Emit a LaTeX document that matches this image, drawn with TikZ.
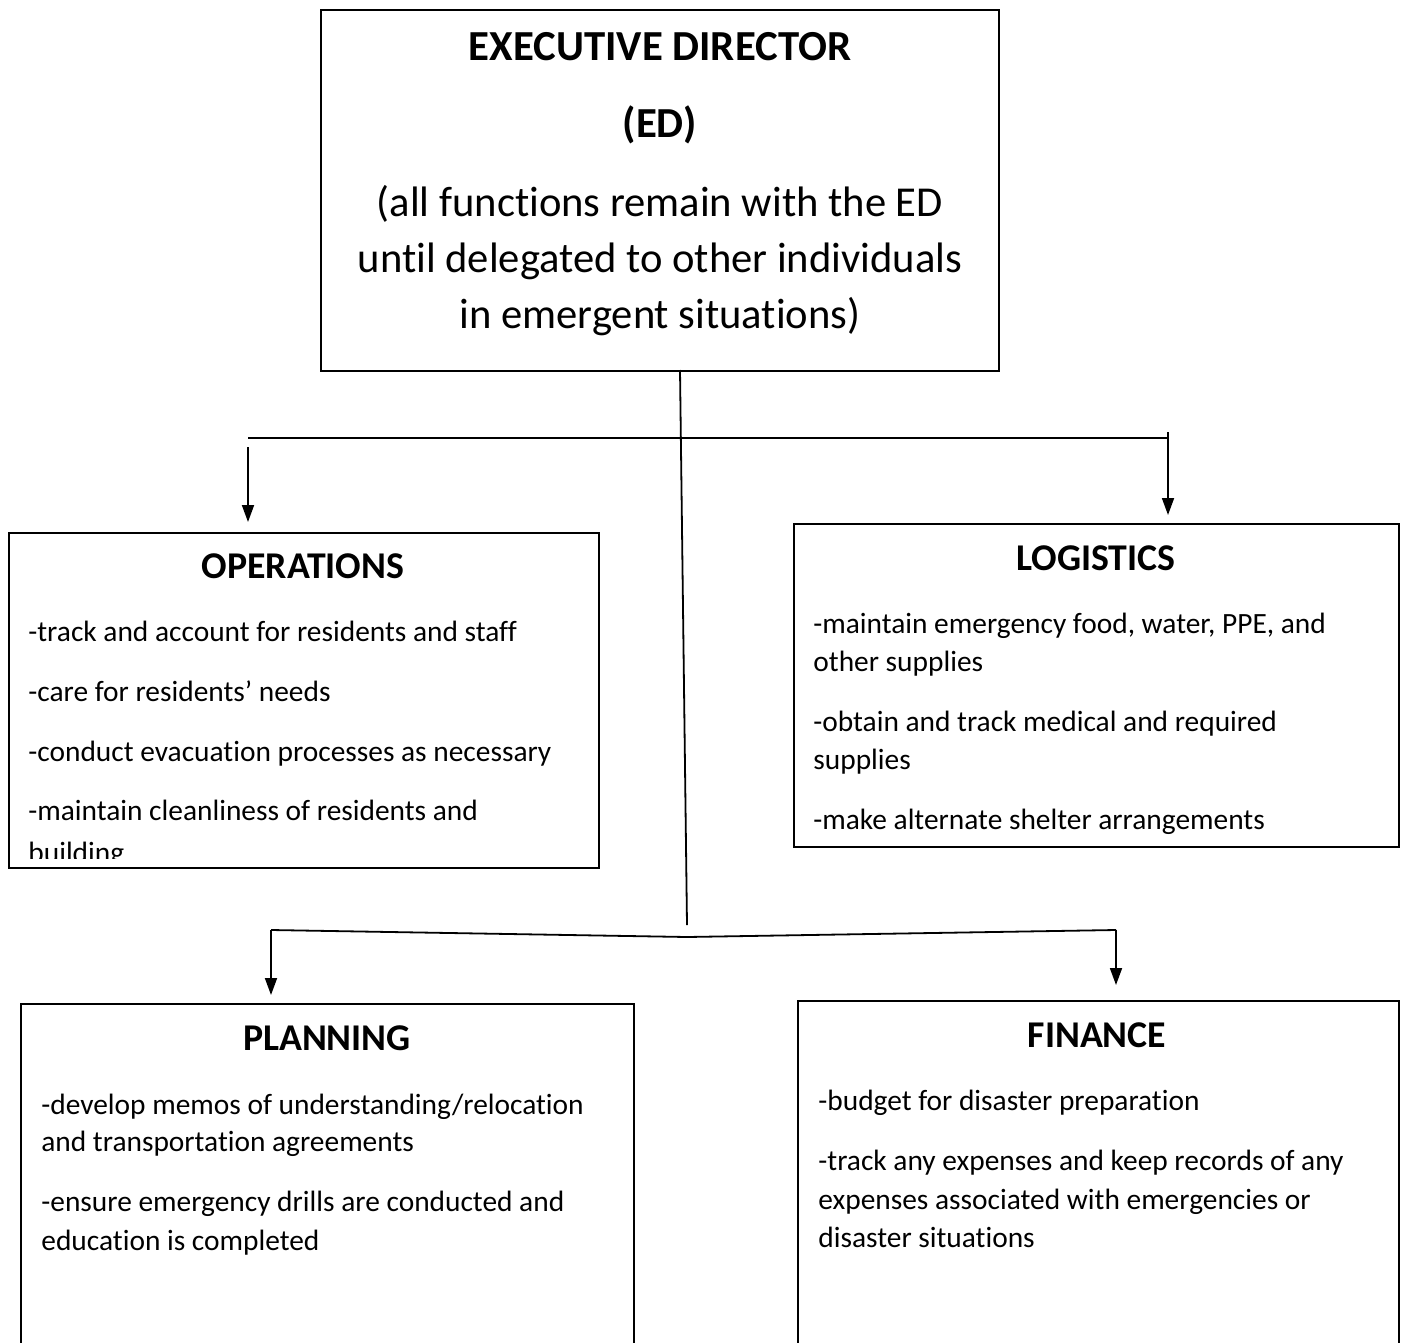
\documentclass[tikz,border=0pt]{standalone}
\usepackage{fontspec}
\setmainfont{Carlito}[Ligatures={TeX,NoCommon}]
\usetikzlibrary{positioning,arrows.meta}

\tikzset{
  box/.style={draw, line width=0.9pt, inner sep=0pt, anchor=north west},
  head/.style={font=\fontsize{18.9}{23}\selectfont\bfseries, anchor=base, inner sep=0pt},
  edhead/.style={font=\fontsize{21.4}{26}\selectfont\bfseries, anchor=base, inner sep=0pt},
  item/.style={font=\fontsize{14.7}{18}\selectfont, anchor=base west, inner sep=0pt},
  edtext/.style={font=\fontsize{21.3}{26}\selectfont, anchor=base, inner sep=0pt},
  link/.style={line width=0.9pt},
  arr/.style={link, -{Triangle[length=8.5pt,width=6pt]}}
}

\begin{document}
\begin{tikzpicture}[x=0.5pt,y=-0.5pt]
    \useasboundingbox (0,0) rectangle (1402,1343);
    \clip (0,0) rectangle (1402,1343);

    %% Executive director
    \node[box, minimum width=339pt, minimum height=180.5pt] (ed) at (320,9) {};
    \node[edhead] (edtitle) at (660,61) {EXECUTIVE DIRECTOR};
    \node[edhead] (edshort) at (660,137) {(ED)};
    \node[edtext] (edline1) at (660,216) {(all functions remain with the ED};
    \node[edtext] (edline2) at (660,272) {until delegated to other individuals};
    \node[edtext] (edline3) at (660,328) {in emergent situations)};

    %% Operations
    \node[box, minimum width=295pt, minimum height=167.5pt] (ops) at (8,532) {};
    \node[head] (opstitle) at (303,578) {OPERATIONS};
    \node[item] (ops1) at (28,641) {-track and account for residents and staff};
    \node[item] (ops2) at (28,701) {-care for residents’ needs};
    \node[item] (ops3) at (28,761) {-conduct evacuation processes as necessary};
    \node[item] (ops4) at (28,820) {-maintain cleanliness of residents and};
    \begin{scope}
        \clip (8,532) rectangle (598,858);
        \node[item] (ops5) at (28,862) {building};
    \end{scope}

    %% Logistics
    \node[box, minimum width=302.5pt, minimum height=161.5pt] (logi) at (793,523) {};
    \node[head] (logititle) at (1096,570) {LOGISTICS};
    \node[item] (logi1) at (813,633) {-maintain emergency food, water, PPE, and};
    \node[item] (logi2) at (813,671) {other supplies};
    \node[item] (logi3) at (813,731) {-obtain and track medical and required};
    \node[item] (logi4) at (813,769) {supplies};
    \node[item] (logi5) at (813,829) {-make alternate shelter arrangements};

    %% Planning
    \node[box, minimum width=306.5pt, minimum height=180pt] (plan) at (20,1003) {};
    \node[head] (plantitle) at (327,1050) {PLANNING};
    \node[item] (plan1) at (41,1114) {-develop memos of understanding/relocation};
    \node[item] (plan2) at (41,1151) {and transportation agreements};
    \node[item] (plan3) at (41,1211) {-ensure emergency drills are conducted and};
    \node[item] (plan4) at (41,1250) {education is completed};

    %% Finance
    \node[box, minimum width=300.5pt, minimum height=180pt] (fin) at (797,1000) {};
    \node[head] (fintitle) at (1097,1047) {FINANCE};
    \node[item] (fin1) at (818,1110) {-budget for disaster preparation};
    \node[item] (fin2) at (818,1170) {-track any expenses and keep records of any};
    \node[item] (fin3) at (818,1209) {expenses associated with emergencies or};
    \node[item] (fin4) at (818,1247) {disaster situations};

    %% connectors
    \coordinate (trunktop) at (680,370);
    \coordinate (trunkend) at (687,925);
    \coordinate (upleft) at (248,438);
    \coordinate (upright) at (1168,438);
    \coordinate (lowleft) at (271,930);
    \coordinate (lowmid) at (687,937);
    \coordinate (lowright) at (1116,930);

    \draw[link] (trunktop) -- (trunkend);
    \draw[link] (upleft) -- (upright);
    \draw[arr] ([yshift=-4.5pt]upleft) -- ([yshift=5pt]ops.north -| upleft);
    \draw[arr] ([yshift=3pt]upright) -- ([yshift=4pt]logi.north -| upright);
    \draw[link] (lowleft) -- (lowmid) -- (lowright);
    \draw[arr] (lowleft) -- ([yshift=4pt]plan.north -| lowleft);
    \draw[arr] (lowright) -- ([yshift=7.5pt]fin.north -| lowright);
\end{tikzpicture}
\end{document}
